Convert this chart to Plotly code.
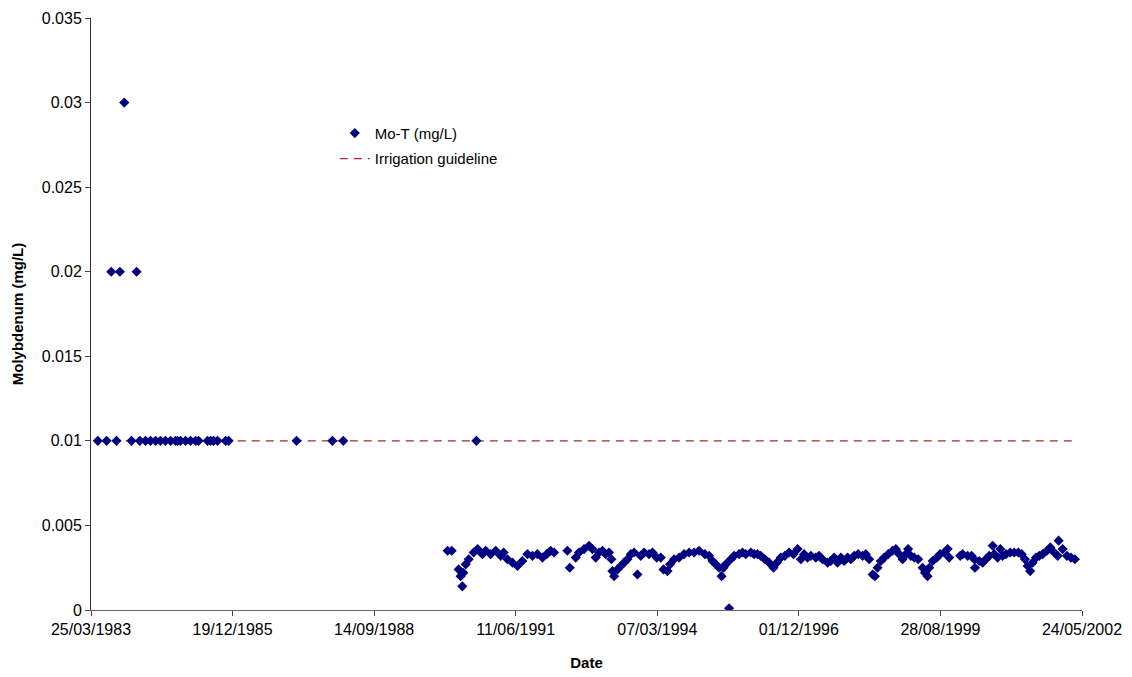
import pandas as pd
import plotly.graph_objects as go

# Sample dates as Excel serial day numbers (origin 1899-12-30), values in mg/L
early_serial = [30448, 30510, 30543, 30580, 30604, 30635, 30686, 30722, 30745, 30785,
                30820, 30856, 30891, 30926, 30962, 30997, 31011, 31032, 31068, 31103,
                31139, 31160, 31223, 31245, 31266, 31294, 31351, 31372, 31852, 32105,
                32182, 33122]
early_value = [0.01, 0.01, 0.02, 0.01, 0.02, 0.03, 0.01, 0.02, 0.01, 0.01,
               0.01, 0.01, 0.01, 0.01, 0.01, 0.01, 0.01, 0.01, 0.01, 0.01,
               0.01, 0.01, 0.01, 0.01, 0.01, 0.01, 0.01, 0.01, 0.01, 0.01,
               0.01, 0.01]

late_serial = [32919, 32948, 32997, 33011, 33023, 33030, 33047, 33068, 33103, 33131,
               33165, 33188, 33223, 33259, 33294, 33315, 33341, 33377, 33412, 33447,
               33483, 33518, 33553, 33589, 33619, 33647, 33671, 33765, 33782, 33824,
               33847, 33883, 33918, 33942, 33965, 33989, 34013, 34036, 34059, 34076,
               34083, 34095, 34119, 34142, 34165, 34189, 34213, 34236, 34260, 34283,
               34307, 34342, 34366, 34396, 34425, 34444, 34472, 34490, 34519, 34554,
               34589, 34625, 34660, 34695, 34736, 34766, 34790, 34813, 34837, 34854,
               34868, 34884, 34907, 34919, 34943, 34978, 35002, 35025, 35061, 35084,
               35108, 35131, 35160, 35190, 35221, 35244, 35273, 35301, 35331, 35362,
               35391, 35414, 35437, 35461, 35485, 35520, 35543, 35567, 35603, 35626,
               35649, 35673, 35697, 35720, 35744, 35767, 35791, 35819, 35850, 35873,
               35897, 35921, 35937, 35956, 35979, 36003, 36031, 36062, 36085, 36109,
               36133, 36156, 36172, 36191, 36215, 36243, 36274, 36290, 36309, 36321,
               36345, 36375, 36398, 36427, 36451, 36462, 36540, 36557, 36592, 36620,
               36639, 36644, 36674, 36698, 36721, 36745, 36769, 36780, 36804, 36823,
               36839, 36863, 36893, 36921, 36950, 36974, 36997, 37016, 37034, 37051,
               37075, 37098, 37122, 37152, 37176, 37204, 37228, 37235, 37263, 37294,
               37322, 37350]
late_value = [0.0035, 0.0035, 0.0024, 0.0020, 0.0014, 0.0022, 0.0027, 0.0030, 0.0034, 0.0036,
              0.0033, 0.0035, 0.0033, 0.0035, 0.0032, 0.0034, 0.0030, 0.0028, 0.0026, 0.0029,
              0.0033, 0.0032, 0.0033, 0.0031, 0.0033, 0.0035, 0.0034, 0.0035, 0.0025, 0.0031,
              0.0034, 0.0036, 0.0038, 0.0036, 0.0031, 0.0034, 0.0035, 0.0033, 0.0034, 0.0030,
              0.0023, 0.0020, 0.0024, 0.0026, 0.0028, 0.0030, 0.0033, 0.0034, 0.0021, 0.0032,
              0.0034, 0.0033, 0.0034, 0.0031, 0.0031, 0.0024, 0.0023, 0.0027, 0.0030, 0.0031,
              0.0033, 0.0034, 0.0034, 0.0035, 0.0033, 0.0032, 0.0029, 0.0027, 0.0025, 0.0020,
              0.0025, 0.0027, 0.0001, 0.0030, 0.0032, 0.0033, 0.0034, 0.0033, 0.0034, 0.0033,
              0.0033, 0.0032, 0.0030, 0.0028, 0.0025, 0.0028, 0.0031, 0.0032, 0.0034, 0.0033,
              0.0036, 0.0030, 0.0033, 0.0031, 0.0032, 0.0031, 0.0032, 0.0030, 0.0028, 0.0029,
              0.0031, 0.0028, 0.0031, 0.0029, 0.0031, 0.0030, 0.0032, 0.0033, 0.0032, 0.0033,
              0.0030, 0.0021, 0.0020, 0.0025, 0.0029, 0.0031, 0.0033, 0.0035, 0.0036, 0.0033,
              0.0030, 0.0033, 0.0036, 0.0032, 0.0031, 0.0030, 0.0025, 0.0022, 0.0020, 0.0025,
              0.0029, 0.0031, 0.0033, 0.0034, 0.0036, 0.0031, 0.0032, 0.0033, 0.0032, 0.0032,
              0.0030, 0.0025, 0.0029, 0.0028, 0.0030, 0.0032, 0.0038, 0.0033, 0.0031, 0.0036,
              0.0032, 0.0033, 0.0034, 0.0034, 0.0034, 0.0033, 0.0030, 0.0026, 0.0023, 0.0028,
              0.0031, 0.0032, 0.0033, 0.0035, 0.0037, 0.0034, 0.0032, 0.0041, 0.0036, 0.0032,
              0.0031, 0.0030]

guideline_serial = [30448, 37350]
guideline_value = [0.01, 0.01]

x_tick_labels = ["25/03/1983", "19/12/1985", "14/09/1988", "11/06/1991",
                 "07/03/1994", "01/12/1996", "28/08/1999", "24/05/2002"]
y_tick_values = [0, 0.005, 0.01, 0.015, 0.02, 0.025, 0.03, 0.035]
y_tick_labels = ["0", "0.005", "0.01", "0.015", "0.02", "0.025", "0.03", "0.035"]


def to_dates(serials):
    return pd.to_datetime(pd.Series(serials), unit="D", origin="1899-12-30")


mo_dates = pd.concat([to_dates(early_serial), to_dates(late_serial)], ignore_index=True)
mo_values = early_value + late_value
tick_dates = pd.to_datetime(x_tick_labels, format="%d/%m/%Y")

FONT = "Liberation Sans, Arial, sans-serif"

fig = go.Figure()
fig.add_trace(go.Scatter(
    x=to_dates(guideline_serial), y=guideline_value, mode="lines",
    name="Irrigation guideline",
    line=dict(color="#B22424", width=1.2, dash="8px,6px"),
    legend="legend2",
))
fig.add_trace(go.Scatter(
    x=mo_dates, y=mo_values, mode="markers", name="Mo-T (mg/L)",
    marker=dict(symbol="diamond", size=7.8, color="#000080", line=dict(width=0)),
    legend="legend",
))

fig.update_layout(
    width=1132, height=677,
    margin=dict(l=83, r=58, t=10, b=75, autoexpand=False),
    paper_bgcolor="white", plot_bgcolor="white",
    font=dict(family=FONT, size=15, color="black"),
    showlegend=True,
    legend=dict(x=0.246, y=0.833, xanchor="left", yanchor="top",
                bgcolor="rgba(0,0,0,0)", font=dict(size=15)),
    legend2=dict(x=0.246, y=0.790, xanchor="left", yanchor="top",
                 bgcolor="rgba(0,0,0,0)", font=dict(size=15)),
)
fig.update_xaxes(
    type="date", automargin=False,
    range=[tick_dates[0], tick_dates[-1]],
    tickvals=tick_dates, ticktext=x_tick_labels,
    tickfont=dict(size=16), ticklabeloverflow="allow",
    showgrid=False, zeroline=False,
    showline=True, linecolor="#666666", linewidth=1,
    ticks="outside", ticklen=5, tickcolor="#444444",
    title=dict(text="<b>Date</b>", font=dict(size=15), standoff=20),
)
fig.update_yaxes(
    automargin=False,
    range=[0, 0.035],
    tickvals=y_tick_values, ticktext=y_tick_labels,
    tickfont=dict(size=16), ticklabeloverflow="allow",
    showgrid=False, zeroline=False,
    showline=True, linecolor="#333333", linewidth=1,
    ticks="outside", ticklen=5, tickcolor="#444444",
    title=dict(text="<b>Molybdenum (mg/L)</b>", font=dict(size=15), standoff=14),
)

fig.write_html("out.html")
